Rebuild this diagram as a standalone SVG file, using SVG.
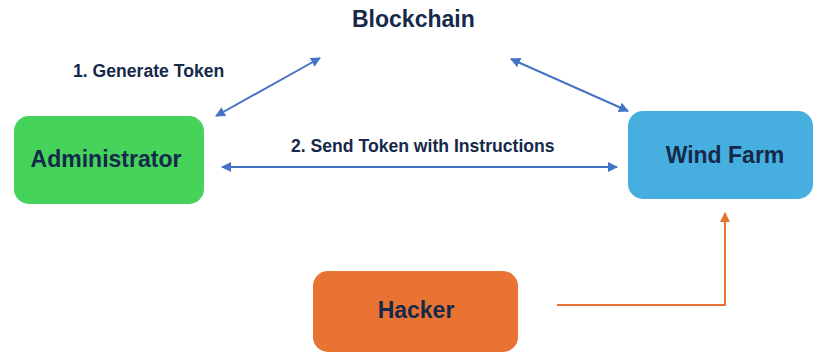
<svg xmlns="http://www.w3.org/2000/svg" width="815" height="352" viewBox="0 0 815 352">
  <style>
    text { font-family: "Liberation Sans", Arial, sans-serif; font-weight: bold; fill: #15294a; }
    .title { font-size: 23px; }
    .label { font-size: 17.6px; }
    .node-text { font-size: 23px; text-anchor: middle; }
    .link { fill: none; stroke: #4472c4; stroke-width: 2; }
    .attack { fill: none; stroke: #e8722f; stroke-width: 2; }
  </style>
  <defs>
    <marker id="blueHead" viewBox="0 0 10 10" refX="9" refY="5" markerWidth="5" markerHeight="5" orient="auto-start-reverse">
      <path d="M0,0 L10,5 L0,10 z" fill="#4472c4"/>
    </marker>
    <marker id="orangeHead" viewBox="0 0 10 10" refX="9" refY="5" markerWidth="5" markerHeight="5" orient="auto">
      <path d="M0,0 L10,5 L0,10 z" fill="#e8722f"/>
    </marker>
  </defs>

  <rect width="815" height="352" fill="#ffffff"/>

  <text class="title" x="352" y="27">Blockchain</text>
  <text class="label" x="73" y="77">1. Generate Token</text>
  <text class="label" x="291" y="152">2. Send Token with Instructions</text>

  <g id="connectors">
    <line class="link" x1="216" y1="116" x2="320" y2="58" marker-start="url(#blueHead)" marker-end="url(#blueHead)"/>
    <line class="link" x1="511" y1="59" x2="628" y2="111" marker-start="url(#blueHead)" marker-end="url(#blueHead)"/>
    <line class="link" x1="222" y1="167" x2="617" y2="167" marker-start="url(#blueHead)" marker-end="url(#blueHead)"/>
    <polyline class="attack" points="557,305 725,305 725,213" marker-end="url(#orangeHead)"/>
  </g>

  <g id="administrator">
    <rect x="14" y="116" width="190" height="88" rx="15" fill="#45d35a"/>
    <text class="node-text" x="106" y="167">Administrator</text>
  </g>

  <g id="wind-farm">
    <rect x="628" y="111" width="185" height="88" rx="15" fill="#46afe0"/>
    <text class="node-text" x="725" y="163">Wind Farm</text>
  </g>

  <g id="hacker">
    <rect x="313" y="271" width="205" height="81" rx="15" fill="#e87333"/>
    <text class="node-text" x="416" y="318">Hacker</text>
  </g>
</svg>
